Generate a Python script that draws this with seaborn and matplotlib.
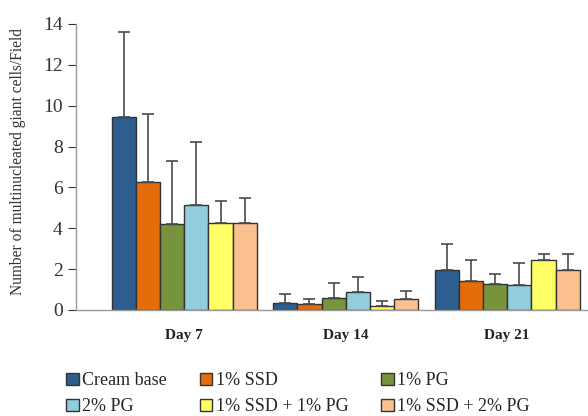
import numpy as np
import pandas as pd
import matplotlib
matplotlib.use("Agg")
import matplotlib.pyplot as plt
import seaborn as sns

# values
days = ["Day 7", "Day 14", "Day 21"]
groups = ["Cream base", "1% SSD", "1% PG", "2% PG", "1% SSD + 1% PG", "1% SSD + 2% PG"]
cream_base = [9.45, 0.34, 1.95]
ssd_1 = [6.25, 0.30, 1.40]
pg_1 = [4.20, 0.61, 1.25]
pg_2 = [5.15, 0.90, 1.20]
ssd1_pg1 = [4.25, 0.20, 2.46]
ssd1_pg2 = [4.25, 0.53, 1.95]
cream_base_sd = [4.15, 0.42, 1.30]
ssd_1_sd = [3.33, 0.23, 1.03]
pg_1_sd = [3.08, 0.70, 0.49]
pg_2_sd = [3.08, 0.72, 1.10]
ssd1_pg1_sd = [1.10, 0.24, 0.29]
ssd1_pg2_sd = [1.25, 0.39, 0.77]
colors = ["#2E5D8F", "#E46C0A", "#77933C", "#92CDDC", "#FFFF66", "#FAC090"]

means = [cream_base, ssd_1, pg_1, pg_2, ssd1_pg1, ssd1_pg2]
sds = [cream_base_sd, ssd_1_sd, pg_1_sd, pg_2_sd, ssd1_pg1_sd, ssd1_pg2_sd]

rows = []
for g, m, s in zip(groups, means, sds):
    for d, v, e in zip(days, m, s):
        rows.append({"day": d, "group": g, "value": v, "sd": e})
df = pd.DataFrame(rows)

sns.set_style("white")
plt.rcParams["font.family"] = ["Liberation Serif", "DejaVu Serif"]

fig = plt.figure(figsize=(5.88, 4.16), dpi=100)
ax = fig.add_axes([76 / 588, 1 - 310 / 416, 512 / 588, 286 / 416])

sns.barplot(data=df, x="day", y="value", hue="group", order=days, hue_order=groups,
            palette=colors, saturation=1, width=0.9, errorbar=None, edgecolor="#333333",
            linewidth=1.0, ax=ax)

# upward-only error bars at the centre of each bar
for cont, g in zip(ax.containers, groups):
    sub = df[df["group"] == g].set_index("day").loc[days]
    xs = [p.get_x() + p.get_width() / 2 for p in cont.patches]
    ys = [p.get_height() for p in cont.patches]
    ax.errorbar(xs, ys, yerr=[np.zeros(len(xs)), sub["sd"].values], fmt="none",
                ecolor="#4a4a4a", elinewidth=1.2, capsize=4, capthick=1.2)

ax.set_xlim(-0.67, 2.5)
ax.set_ylim(0, 14)
ax.set_yticks(range(0, 15, 2))
ax.tick_params(axis="y", labelsize=14, colors="#333333", length=6, width=0.8,
               direction="out", left=True)
ax.tick_params(axis="x", length=0, labelsize=11, pad=14)
for lab in ax.get_xticklabels():
    lab.set_fontweight("bold")
    lab.set_color("#222222")
ax.set_xlabel("")
ax.set_ylabel("Number of multinucleated giant cells/Field", fontsize=11.2, color="#333333")
ax.yaxis.set_label_coords(-0.098, 0.52)
for sp in ["top", "right"]:
    ax.spines[sp].set_visible(False)
for sp in ["left", "bottom"]:
    ax.spines[sp].set_color("#999999")
    ax.spines[sp].set_linewidth(1.0)

# legend filled row by row (3 columns, 2 rows)
handles, labels = ax.get_legend_handles_labels()
ax.legend_.remove()
order = [0, 3, 1, 4, 2, 5]
fig.legend([handles[i] for i in order], [labels[i] for i in order], ncol=3,
           loc="upper left", bbox_to_anchor=(59 / 588, 1 - 365 / 416),
           frameon=False, fontsize=13, handlelength=0.7, handleheight=0.7,
           handletextpad=0.2, columnspacing=1.8, labelspacing=0.5,
           borderaxespad=0.0)

fig.savefig("out.png", dpi=100)
